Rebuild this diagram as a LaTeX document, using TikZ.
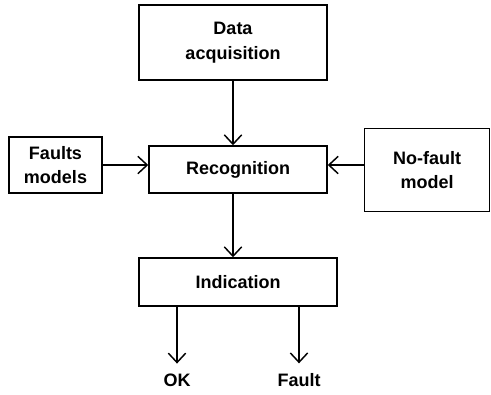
\documentclass[tikz,border=0pt]{standalone}
\usepackage{fontspec}
\setmainfont{Liberation Sans}
\usetikzlibrary{arrows.meta}

\begin{document}
\begin{tikzpicture}[x=0.75pt,y=-0.75pt,line width=1.1pt,
  box/.style={draw,align=center,inner sep=0pt,font=\fontsize{13.5}{18.5}\selectfont\bfseries},
  outlbl/.style={inner sep=0pt,font=\fontsize{13.5}{18.5}\selectfont\bfseries},
  flow/.style={-{Straight Barb[length=7pt,width=13pt]}}]
  \useasboundingbox (0,0) rectangle (491,394);
  \node[box,minimum width=141pt,minimum height=56pt] (data) at (233,42.5) {Data\\acquisition};
  \node[box,minimum width=133.5pt,minimum height=35.25pt] (recog) at (238,169.5) {Recognition};
  \node[box,minimum width=69.75pt,minimum height=42pt] (faults) at (55.5,165) {Faults\\models};
  \node[box,minimum width=93.75pt,minimum height=62.25pt] (nofault) at (427,170) {No-fault\\model};
  \node[box,minimum width=148.5pt,minimum height=36pt] (ind) at (238,282) {Indication};
  \node[outlbl] (ok) at (177,380) {OK};
  \node[outlbl] (fault) at (299,380) {Fault};

  \draw[flow] (data.south) -- (data.south |- recog.north);
  \draw[flow] (faults.east |- 0,165) -- (recog.west |- 0,165);
  \draw[flow] (nofault.west |- 0,165) -- (recog.east |- 0,165);
  \draw[flow] (data.south |- recog.south) -- (data.south |- ind.north);
  \draw[flow,shorten >=7pt] (ind.south -| ok) -- (ok.north);
  \draw[flow,shorten >=7pt] (ind.south -| fault) -- (fault.north);
\end{tikzpicture}
\end{document}
